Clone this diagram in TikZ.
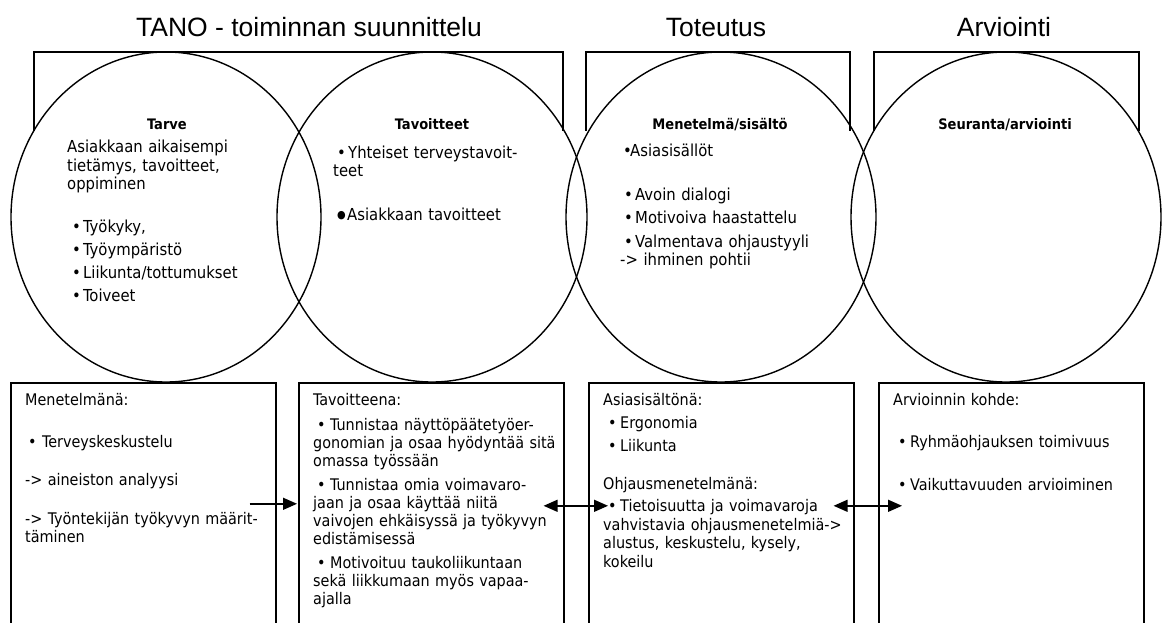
\documentclass[tikz,border=0pt]{standalone}
\usepackage{fontspec}
\setmainfont{DejaVu Sans Condensed}
\newfontfamily\titlefont{Liberation Sans}
\usetikzlibrary{arrows.meta,calc,shapes.geometric}
\newcommand\bu[1][11pt]{\makebox[#1][l]{•}}
\newcommand\bigbul{\raisebox{1.5pt}{\fontsize{11}{11}\selectfont ●}}
\begin{document}
\begin{tikzpicture}[x=1pt,y=-1pt,
  ttl/.style={font=\titlefont\fontsize{26.5}{30}\selectfont, anchor=base, inner sep=0pt},
  ring/.style={ellipse, draw, line width=1.4pt, minimum width=310pt, minimum height=330pt, inner sep=0pt},
  lbl/.style={font=\fontsize{14.5}{17}\selectfont\bfseries, anchor=base, inner sep=0pt},
  txt/.style={anchor=base west, inner sep=0pt, align=left, text width=#1},
  txt/.default=250pt,
  boxs/.style={draw, line width=1.6pt, minimum width=265pt, minimum height=246pt, inner sep=0pt, anchor=north west},
  brk/.style={draw, line width=1.4pt},
  arr/.style={line width=1.4pt},
  tip/.tip={Triangle[length=14pt,width=12pt]}
]
\clip (0,0) rectangle (1164,623);
\fill[white] (0,0) rectangle (1164,623);

% titles
\node[ttl] (t1) at (309,37) {TANO - toiminnan suunnittelu};
\node[ttl] (t2) at (716,37) {Toteutus};
\node[ttl] (t3) at (1004,37) {Arviointi};

% brackets
\draw[brk] (34,131) |- (563,52) -- (563,131);
\draw[brk] (586,131) |- (850,52) -- (850,131);
\draw[brk] (874,131) |- (1139,52) -- (1139,131);

% circles
\node[ring] (c1) at (166,217) {};
\node[ring] (c2) at (432,217) {};
\node[ring] (c3) at (721,217) {};
\node[ring] (c4) at (1006,217) {};

% circle labels
\node[lbl] (l1) at (167,130) {Tarve};
\node[lbl] (l2) at (432,130) {Tavoitteet};
\node[lbl] (l3) at (720,130) {Menetelmä/sisältö};
\node[lbl] (l4) at (1005,130) {Seuranta/arviointi};

% circle texts
\node[txt=230pt, font=\fontsize{16.5}{18}\selectfont] (ct1a) at (67,153)
  {Asiakkaan aikaisempi\\tietämys, tavoitteet,\\oppiminen};
\node[txt=230pt, font=\fontsize{16.5}{23.3}\selectfont] (ct1b) at (72,232)
  {\bu Työkyky,\\\bu Työympäristö\\\bu Liikunta/tottumukset\\\bu Toiveet};
\node[txt=240pt, font=\fontsize{16.5}{18}\selectfont] (ct2) at (333,158)
  {\hspace*{4pt}\bu Yhteiset terveystavoit-\\teet\\[26pt]\hspace*{4pt}\makebox[10pt][l]{\bigbul}Asiakkaan tavoitteet};
\node[txt=250pt, font=\fontsize{16.5}{18.5}\selectfont] (ct3) at (620,157)
  {\hspace*{3pt}\bu[7pt]Asiasisällöt\\[25pt]\hspace*{4pt}\bu Avoin dialogi\\[4.5pt]\hspace*{4pt}\bu Motivoiva haastattelu\\[5pt]\hspace*{4pt}\bu Valmentava ohjaustyyli\\-> ihminen pohtii};

% boxes
\node[boxs] (b1) at (10,382) {};
\node[boxs] (b2) at (298,382) {};
\node[boxs] (b3) at (588,382) {};
\node[boxs] (b4) at (878,382) {};

% box texts
\node[txt=250pt, font=\fontsize{16}{18.5}\selectfont] (bt1) at (25,405)
  {Menetelmänä:\\[24pt]\hspace*{3pt}\bu[14pt]Terveyskeskustelu\\[19pt]-> aineiston analyysi\\[20.5pt]-> Työntekijän työkyvyn määrit-\\täminen};
\node[txt=250pt, font=\fontsize{16}{18}\selectfont] (bt2) at (313,405)
  {Tavoitteena:\\[7pt]\hspace*{4pt}\bu[13pt]Tunnistaa näyttöpäätetyöer-\\gonomian ja osaa hyödyntää sitä\\omassa työssään\\[6pt]\hspace*{4pt}\bu[13pt]Tunnistaa omia voimavaro-\\jaan ja osaa käyttää niitä\\vaivojen ehkäisyssä ja työkyvyn\\edistämisessä\\[6pt]\hspace*{4pt}\bu[13pt]Motivoituu taukoliikuntaan\\sekä liikkumaan myös vapaa-\\ajalla};
\node[txt=250pt, font=\fontsize{16}{18.5}\selectfont] (bt3) at (603,405)
  {Asiasisältönä:\\[4.5pt]\hspace*{5pt}\bu[12pt]Ergonomia\\[5pt]\hspace*{5pt}\bu[12pt]Liikunta\\[19.5pt]Ohjausmenetelmänä:\\[3.5pt]\hspace*{5pt}\bu[12pt]Tietoisuutta ja voimavaroja\\vahvistavia ohjausmenetelmiä->\\alustus, keskustelu, kysely,\\kokeilu};
\node[txt=250pt, font=\fontsize{16}{18.5}\selectfont] (bt4) at (893,405)
  {Arvioinnin kohde:\\[24pt]\hspace*{5pt}\bu[12pt]Ryhmäohjauksen toimivuus\\[24pt]\hspace*{5pt}\bu[12pt]Vaikuttavuuden arvioiminen};

% arrows
\draw[arr,-tip] ($(b1.east)+(-27,-2)$) -- ($(b2.west)+(-1,-2)$);
\draw[arr,tip-tip] ($(b2.east)+(-21,0)$) -- ($(b3.west)+(20,0)$);
\draw[arr,tip-tip] ($(b3.east)+(-21,0)$) -- ($(b4.west)+(24,0)$);
\end{tikzpicture}
\end{document}
